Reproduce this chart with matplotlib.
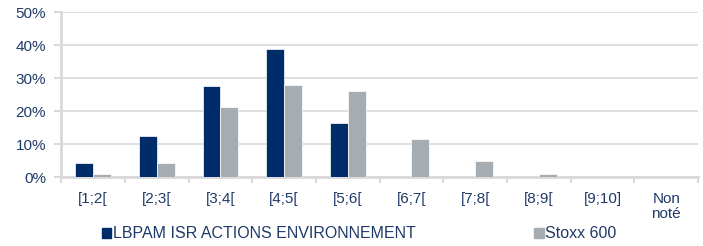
import numpy as np
import matplotlib.pyplot as plt
from matplotlib.patches import Patch
from matplotlib.ticker import PercentFormatter

plt.rcParams['font.family'] = ['Liberation Sans', 'DejaVu Sans']

categories = ['[1;2[', '[2;3[', '[3;4[', '[4;5[', '[5;6[', '[6;7[', '[7;8[', '[8;9[', '[9;10]', 'Non\nnoté']
fund = [4.3, 12.5, 27.6, 38.8, 16.3, 0, 0, 0, 0, 0]
stoxx = [0.9, 4.4, 21.2, 28.0, 26.2, 11.5, 5.0, 1.0, 0, 0]
fund_name = 'LBPAM ISR ACTIONS ENVIRONNEMENT'
bench_name = 'Stoxx 600'

navy = '#002D6A'
grey = '#A5ADB3'
txt = '#1F3A68'
line = '#D9D9D9'

fig = plt.figure(figsize=(7.03, 2.46), dpi=100)
ax = fig.add_axes([0.087, 0.28, 0.906, 0.671])

x = np.arange(len(categories))
w = 0.28
ax.bar(x - w / 2, fund, w, color=navy, edgecolor='white', linewidth=0.5, zorder=3)
ax.bar(x + w / 2, stoxx, w, color=grey, edgecolor='white', linewidth=0.5, zorder=3)

ax.set_xlim(-0.5, len(categories) - 0.5)
ax.set_ylim(0, 50)
ax.set_yticks([0, 10, 20, 30, 40, 50])
ax.yaxis.set_major_formatter(PercentFormatter(decimals=0))
ax.grid(axis='y', color=line, linewidth=1.2, zorder=0)

ax.set_xticks(x)
ax.set_xticklabels(categories, linespacing=1.05)
ax.set_xticks(np.arange(-0.5, len(categories)), minor=True)
ax.tick_params(axis='x', which='major', length=0, pad=11, labelsize=11, labelcolor=txt)
ax.tick_params(axis='x', which='minor', length=4, width=1.5, color=line)
ax.tick_params(axis='y', length=5, width=1.5, color=line, labelsize=11, labelcolor=txt, pad=6)

for side in ['top', 'right']:
    ax.spines[side].set_visible(False)
for side in ['left', 'bottom']:
    ax.spines[side].set_color(line)
    ax.spines[side].set_linewidth(2)

handles = [Patch(color=navy, label=fund_name), Patch(color=grey, label=bench_name)]
fig.legend(handles=handles, loc='center left', bbox_to_anchor=(0.124, 0.049), ncol=2,
           frameon=False, fontsize=11.5, handlelength=0.62, handleheight=0.62,
           handletextpad=0.1, columnspacing=7.4, labelcolor=txt)

fig.savefig('out.png', dpi=100)
